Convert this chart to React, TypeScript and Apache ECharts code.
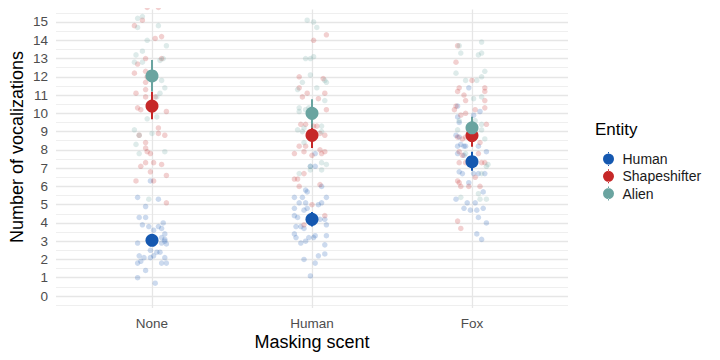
import React, { useEffect, useRef } from "react";
import * as echarts from "echarts";

const categories = ["None", "Human", "Fox"];
const entities = ["Human", "Shapeshifter", "Alien"];
const colors = ["#1558b0", "#c62828", "#6aa4a0"];
const yTicks = [0, 15];

// jittered observations: [horizontal jitter (category units), vocalizations]
const humanNone: [number, number][] = [
  [-0.09, 5.4], [-0.01, 6.3], [0.04, 5.3], [-0.04, 4.9], [-0.08, 4.3], [-0.04, 4.3], [-0.06, 3.9], [0.07, 4.0],
  [-0.02, 3.8], [0.04, 3.8], [0.06, 3.7], [0.01, 3.6], [0.08, 3.4], [0.06, 3.2], [0.08, 3.1], [-0.09, 2.9],
  [0.0, 3.0], [0.06, 2.9], [-0.01, 2.5], [0.03, 2.4], [0.05, 2.4], [0.01, 2.2], [-0.08, 2.2], [-0.05, 2.1],
  [0.08, 2.1], [-0.01, 2.1], [-0.07, 1.9], [-0.09, 1.8], [0.06, 1.8], [0.09, 1.8], [-0.04, 1.4], [-0.09, 1.0],
  [0.02, 0.7], [0.08, 3.0], [0.09, 2.85],
];
const humanHuman: [number, number][] = [
  [0.02, 7.8], [-0.01, 7.1], [0.02, 7.1], [0.06, 6.0], [-0.04, 5.8], [-0.03, 5.7], [-0.11, 5.4], [-0.06, 5.4],
  [0.09, 5.4], [-0.08, 5.1], [-0.04, 5.1], [0.04, 5.0], [0.06, 5.1], [-0.11, 4.8], [-0.05, 4.7], [-0.03, 4.8],
  [-0.11, 4.4], [-0.09, 4.3], [0.05, 4.2], [0.08, 4.2], [0.09, 3.9], [-0.1, 3.8], [-0.07, 3.8], [-0.05, 3.7],
  [-0.11, 3.4], [-0.1, 3.2], [0.02, 3.3], [0.01, 3.2], [-0.02, 3.2], [-0.04, 3.0], [-0.07, 2.9], [0.09, 3.3],
  [0.08, 2.8], [0.08, 2.3], [0.04, 2.2], [-0.05, 2.0], [0.02, 1.8], [-0.01, 1.1],
];
const humanFox: [number, number][] = [
  [-0.02, 11.4], [0.01, 9.9], [0.05, 10.1], [-0.09, 10.4], [-0.09, 9.8], [-0.08, 9.5], [-0.1, 8.8], [-0.08, 8.7],
  [-0.07, 8.3], [-0.05, 8.2], [-0.09, 8.2], [-0.04, 8.2], [0.04, 8.2], [-0.09, 7.8], [-0.05, 7.7], [-0.08, 6.8],
  [-0.06, 6.7], [-0.02, 6.2], [0.01, 6.7], [0.08, 6.7], [0.04, 6.7], [0.09, 7.9], [0.07, 5.7], [-0.1, 5.3],
  [0.02, 5.1], [-0.03, 5.1], [-0.05, 4.8], [-0.01, 4.7], [0.03, 4.7], [0.07, 4.8], [0.04, 4.3], [0.09, 4.0],
  [0.03, 3.4], [0.06, 3.1],
];
const shapeNone: [number, number][] = [
  [-0.03, 15.8], [0.04, 15.8], [-0.11, 14.8], [-0.06, 15.1], [0.02, 14.1], [0.06, 14.2], [-0.04, 13.0], [-0.09, 12.7],
  [0.06, 13.0], [-0.11, 12.2], [-0.04, 12.3], [-0.03, 12.0], [-0.04, 11.7], [-0.04, 11.3], [-0.1, 11.1], [-0.04, 10.9],
  [0.02, 10.9], [-0.09, 10.3], [-0.07, 10.2], [0.09, 10.1], [0.04, 9.2], [0.04, 8.9], [0.08, 8.8], [-0.08, 8.8],
  [-0.04, 8.4], [-0.04, 8.1], [-0.03, 7.9], [-0.01, 7.8], [-0.04, 7.3], [-0.07, 7.1], [0.01, 7.3], [0.06, 7.2],
  [-0.01, 6.8], [0.09, 6.6], [-0.1, 6.3], [0.01, 6.3], [0.09, 5.1],
];
const shapeHuman: [number, number][] = [
  [0.09, 14.3], [0.01, 14.0], [-0.08, 12.0], [0.07, 11.9], [-0.08, 11.4], [-0.03, 11.1], [-0.06, 10.9], [0.04, 10.8],
  [0.08, 11.1], [0.09, 10.2], [-0.04, 9.4], [-0.07, 9.4], [0.01, 9.3], [0.03, 9.3], [0.08, 8.8], [0.05, 8.9],
  [-0.08, 8.2], [-0.04, 8.2], [0.05, 8.0], [-0.11, 7.8], [-0.05, 7.9], [0.0, 7.7], [0.06, 7.8], [0.08, 7.9],
  [-0.05, 6.7], [-0.11, 6.4], [-0.09, 6.4], [-0.08, 6.0], [0.05, 6.1], [0.0, 5.0], [0.08, 4.4], [-0.05, 3.9],
];
const shapeFox: [number, number][] = [
  [-0.09, 13.7], [-0.1, 12.8], [0.0, 11.8], [-0.08, 11.4], [-0.09, 11.2], [0.08, 11.4], [0.08, 11.2], [-0.05, 11.0],
  [-0.04, 10.7], [0.08, 10.7], [-0.11, 10.2], [-0.1, 10.4], [-0.07, 9.9], [0.02, 10.2], [0.08, 10.3], [-0.04, 10.0],
  [0.09, 9.4], [-0.06, 8.6], [-0.04, 8.7], [0.05, 8.4], [-0.09, 8.7], [-0.08, 7.9], [-0.08, 7.3], [-0.06, 7.7],
  [0.08, 7.3], [0.06, 7.3], [0.02, 6.5], [-0.09, 6.3], [-0.08, 6.2], [-0.07, 6.0], [-0.02, 6.0], [0.05, 6.0],
  [-0.09, 4.1], [-0.07, 3.7], [0.04, 7.8], [-0.04, 7.3],
];
const alienNone: [number, number][] = [
  [-0.09, 15.2], [-0.06, 15.3], [-0.09, 14.7], [0.04, 14.8], [-0.03, 14.0], [0.09, 13.7], [-0.1, 13.2], [-0.06, 13.4],
  [-0.11, 12.8], [-0.06, 12.8], [0.07, 13.0], [0.05, 12.9], [0.06, 11.8], [0.08, 11.4], [0.05, 11.1], [0.03, 10.9],
  [-0.03, 9.7], [0.03, 9.8], [-0.11, 9.1], [-0.08, 8.8], [0.0, 8.9], [-0.1, 8.3], [-0.02, 12.0], [0.02, 11.9],
  [-0.08, 7.8], [0.08, 7.9], [-0.02, 5.3],
];
const alienHuman: [number, number][] = [
  [-0.03, 15.1], [0.01, 15.0], [0.03, 14.7], [-0.04, 13.0], [-0.01, 13.0], [0.01, 13.1], [-0.01, 12.1], [-0.06, 11.7],
  [-0.09, 11.3], [0.03, 11.4], [0.08, 11.8], [0.09, 11.7], [0.08, 10.7], [-0.08, 10.3], [-0.08, 10.1], [-0.04, 10.2],
  [-0.02, 10.3], [-0.09, 9.1], [-0.05, 9.2], [-0.06, 9.0], [0.06, 9.3], [0.06, 9.0], [-0.05, 8.4], [0.06, 7.3],
  [0.09, 7.2], [-0.08, 6.7], [-0.01, 6.9], [0.06, 6.9], [-0.01, 7.1],
];
const alienFox: [number, number][] = [
  [-0.08, 13.7], [0.06, 13.9], [-0.07, 13.3], [0.04, 13.2], [0.06, 13.3], [-0.1, 12.2], [0.08, 12.3], [-0.04, 11.8],
  [0.03, 11.8], [0.06, 12.0], [0.01, 10.8], [0.06, 10.9], [-0.08, 9.6], [0.02, 9.6], [0.06, 9.4], [-0.09, 9.1],
  [0.06, 9.1], [0.08, 8.6], [-0.04, 7.8], [0.09, 7.1], [0.06, 6.7], [0.04, 5.6], [-0.07, 5.4], [0.05, 5.3],
  [0.09, 5.3], [0.1, 7.2],
];

// summary: mean and interval per masking scent
const humanMean = [3.05, 4.2, 7.35];
const humanLow = [2.75, 3.8, 6.85];
const humanHigh = [3.35, 4.6, 7.9];
const shapeMean = [10.4, 8.8, 8.78];
const shapeLow = [9.67, 8.1, 8.17];
const shapeHigh = [11.18, 9.4, 9.3];
const alienMean = [12.05, 10.0, 9.21];
const alienLow = [11.2, 9.2, 8.6];
const alienHigh = [12.92, 10.77, 9.81];

const jitterSets = [
  [humanNone, humanHuman, humanFox],
  [shapeNone, shapeHuman, shapeFox],
  [alienNone, alienHuman, alienFox],
];
const means = [humanMean, shapeMean, alienMean];
const lows = [humanLow, shapeLow, alienLow];
const highs = [humanHigh, shapeHigh, alienHigh];

const FONT = "Liberation Sans, Arial, Helvetica, sans-serif";

export default function App() {
  const ref = useRef<HTMLDivElement>(null);
  useEffect(() => {
    if (!ref.current) return;
    const chart = echarts.init(ref.current, undefined, { renderer: "svg" });
    const series: any[] = [];
    entities.forEach((name, e) => {
      const data: number[][] = [];
      jitterSets[e].forEach((pts, c) => {
        pts.forEach(([j, v]) => data.push([c + 1 + j, v]));
      });
      series.push({
        name: name + " obs",
        type: "scatter",
        xAxisIndex: 0,
        yAxisIndex: 0,
        data,
        symbolSize: 5.5,
        clip: false,
        silent: true,
        itemStyle: { color: colors[e], opacity: 0.22 },
      });
    });
    entities.forEach((name, e) => {
      series.push({
        name: name + " range",
        type: "custom",
        xAxisIndex: 0,
        yAxisIndex: 0,
        silent: true,
        data: categories.map((_, c) => [c + 1, lows[e][c], highs[e][c]]),
        encode: { x: 0, y: [1, 2] },
        renderItem: (params: any, api: any) => {
          const x = api.value(0);
          const p1 = api.coord([x, api.value(1)]);
          const p2 = api.coord([x, api.value(2)]);
          return {
            type: "line",
            shape: { x1: p1[0], y1: p1[1], x2: p2[0], y2: p2[1] },
            style: { stroke: colors[e], lineWidth: 2 },
          };
        },
      });
      series.push({
        name,
        type: "scatter",
        xAxisIndex: 0,
        yAxisIndex: 0,
        data: categories.map((_, c) => [c + 1, means[e][c]]),
        symbolSize: 13,
        clip: false,
        silent: true,
        itemStyle: { color: colors[e], opacity: 1 },
      });
    });

    const icon =
      "path://M6.5,0h1v2h-1z M6.5,12h1v2h-1z M1.5,7a5.5,5.5 0 1,0 11,0a5.5,5.5 0 1,0 -11,0z";

    chart.setOption({
      animation: false,
      backgroundColor: "#ffffff",
      textStyle: { fontFamily: FONT },
      grid: [
        { left: 56, right: 152, top: 3.73, bottom: 45.73 },
        { left: 152, right: 248, top: 9.5, bottom: 52 },
      ],
      xAxis: [
        {
          type: "value",
          gridIndex: 0,
          min: 0.4,
          max: 3.6,
          show: false,
          splitLine: { show: false },
        },
        {
          type: "category",
          gridIndex: 1,
          data: categories,
          boundaryGap: false,
          axisLine: { show: false },
          axisTick: { show: false },
          axisLabel: { color: "#4d4d4d", fontSize: 13.5, margin: 8, fontFamily: FONT },
          splitLine: { show: true, lineStyle: { color: "#e6e6e6", width: 1.3 } },
        },
      ],
      yAxis: [
        {
          type: "value",
          gridIndex: 0,
          min: -1,
          max: 16,
          interval: 1,
          axisLine: { show: false },
          axisTick: { show: false },
          axisLabel: {
            color: "#4d4d4d",
            fontSize: 13.5,
            margin: 8,
            fontFamily: FONT,
            formatter: (v: number) => (v >= yTicks[0] && v <= yTicks[1] ? String(v) : ""),
          },
          splitLine: {
            show: true,
            showMinLine: false,
            showMaxLine: false,
            lineStyle: { color: "#e6e6e6", width: 1.3 },
          },
          minorTick: { show: false, splitNumber: 2 },
          minorSplitLine: { show: true, lineStyle: { color: "#efefef", width: 1 } },
        },
        { type: "value", gridIndex: 1, show: false, splitLine: { show: false } },
      ],
      legend: {
        orient: "vertical",
        left: 598,
        top: 147,
        itemWidth: 14,
        itemHeight: 14,
        itemGap: 3.3,
        icon,
        selectedMode: false,
        data: entities.map((n) => ({ name: n, icon })),
        textStyle: { fontSize: 14, color: "#1a1a1a", fontFamily: FONT, padding: [0, 0, 0, 2], lineHeight: 14 },
      },
      graphic: [
        {
          type: "text",
          left: 595,
          top: 121,
          style: { text: "Entity", fontSize: 17, fill: "#000", fontFamily: FONT },
        },
        {
          type: "text",
          x: 312,
          y: 342,
          style: {
            text: "Masking scent",
            fontSize: 18,
            fill: "#000",
            fontFamily: FONT,
            textAlign: "center",
            textVerticalAlign: "middle",
          },
        },
        {
          type: "text",
          x: 17,
          y: 147,
          rotation: Math.PI / 2,
          style: {
            text: "Number of vocalizations",
            fontSize: 18,
            fill: "#000",
            fontFamily: FONT,
            textAlign: "center",
            textVerticalAlign: "middle",
          },
        },
      ],
      series,
    });
    return () => chart.dispose();
  }, []);
  return <div ref={ref} style={{ width: 720, height: 360, margin: -8 }} />;
}
